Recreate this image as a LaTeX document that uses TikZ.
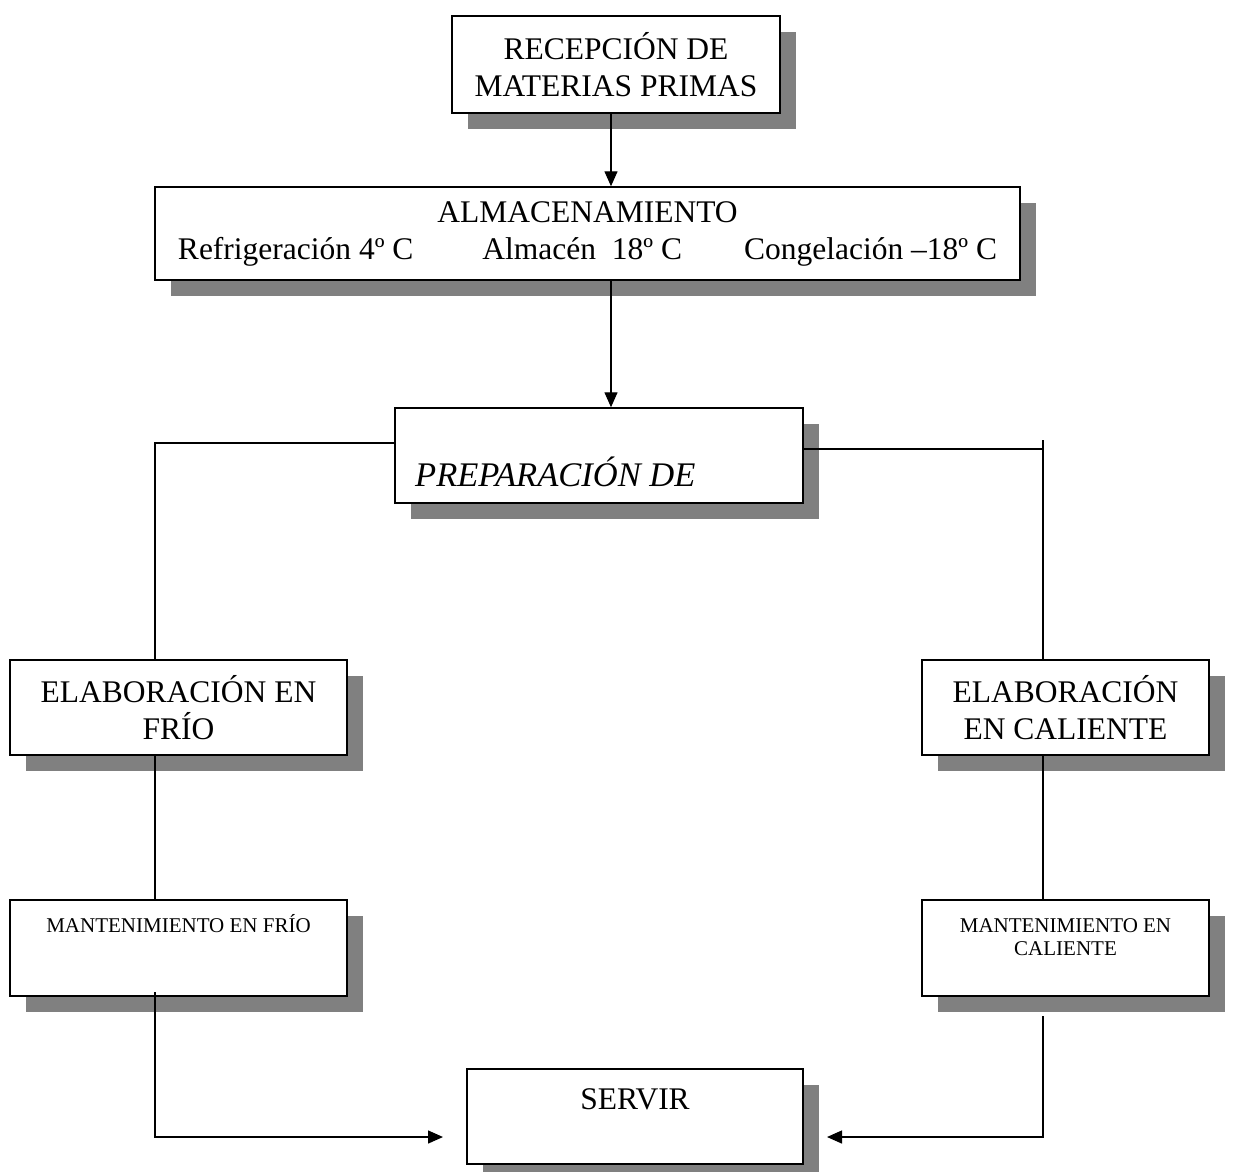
\documentclass[tikz,border=0pt]{standalone}
\usepackage{fontspec}
\setmainfont{Liberation Serif}
\usetikzlibrary{arrows.meta,shadows}
\definecolor{shgray}{RGB}{128,128,128}
\begin{document}
\begin{tikzpicture}[x=1pt,y=-1pt,
  box/.style={draw=black, line width=1.5pt, fill=white, inner sep=0pt, align=center,
     drop shadow={shadow xshift=16pt, shadow yshift=-16pt, fill=shgray, opacity=1}},
  big/.style={font=\fontsize{31.5}{37}\selectfont},
  small/.style={font=\fontsize{21}{23}\selectfont},
  conn/.style={line width=1.4pt},
  arr/.style={conn, -{Triangle[length=15pt,width=13pt]}}]
\useasboundingbox[fill=white] (0,0) rectangle (1237,1171);

\node[box,big,minimum width=328pt,minimum height=97pt] (rec) at (616,64.5) {RECEPCIÓN DE\\MATERIAS PRIMAS};
\node[box,big,minimum width=865pt,minimum height=93pt] (alm) at (587.5,233.5)
  {ALMACENAMIENTO\\Refrigeración 4º C\hspace{69pt}Almacén\ \ 18º C\hspace{62pt}Congelación –18º C};
\node[box,minimum width=408pt,minimum height=95pt] (prep) at (599,455.5) {};
\node[anchor=base west,inner sep=0pt,font=\fontsize{34.5}{37}\selectfont\itshape] (preptxt) at (415,486) {PREPARACIÓN DE};
\node[box,big,minimum width=337pt,minimum height=95pt] (fri) at (178.5,707.5) {ELABORACIÓN EN\\FRÍO};
\node[box,big,minimum width=287pt,minimum height=95pt] (cal) at (1065.5,707.5) {ELABORACIÓN\\EN CALIENTE};
\node[box,minimum width=337pt,minimum height=96pt] (mfri) at (178.5,948) {};
\node[small,anchor=base,inner sep=0pt] (mfritxt) at (178.5,932) {MANTENIMIENTO EN FRÍO};
\node[box,minimum width=287pt,minimum height=96pt] (mcal) at (1065.5,948) {};
\node[small,anchor=base,inner sep=0pt] (mcaltxt1) at (1065.5,932) {MANTENIMIENTO EN};
\node[small,anchor=base,inner sep=0pt] (mcaltxt2) at (1065.5,955) {CALIENTE};
\node[box,minimum width=336pt,minimum height=95pt] (serv) at (635,1116.5) {};
\node[big,anchor=base,inner sep=0pt] (servtxt) at (635,1109) {SERVIR};

\coordinate (ax) at (611,0);
\coordinate (lx) at (155,0);
\coordinate (rx) at (1043,0);
\coordinate (rtop) at (1043,440);
\coordinate (lstart) at (155,992);
\coordinate (lend) at (443,1137);
\coordinate (rstart) at (1043,1016);
\coordinate (rend) at (827,1137);

\draw[arr] (rec.south -| ax) -- (alm.north -| ax);
\draw[arr] (alm.south -| ax) -- (prep.north -| ax);
\draw[conn] ([yshift=12.5pt]prep.west) -| (fri.north -| lx);
\draw[conn] ([yshift=6.5pt]prep.east) -| (rtop);
\draw[conn] (rtop) -- (cal.north -| rx);
\draw[conn] (fri.south -| lx) -- (mfri.north -| lx);
\draw[conn] (cal.south -| rx) -- (mcal.north -| rx);
\draw[arr] (lstart) |- (lend);
\draw[arr] (rstart) |- (rend);
\end{tikzpicture}
\end{document}
